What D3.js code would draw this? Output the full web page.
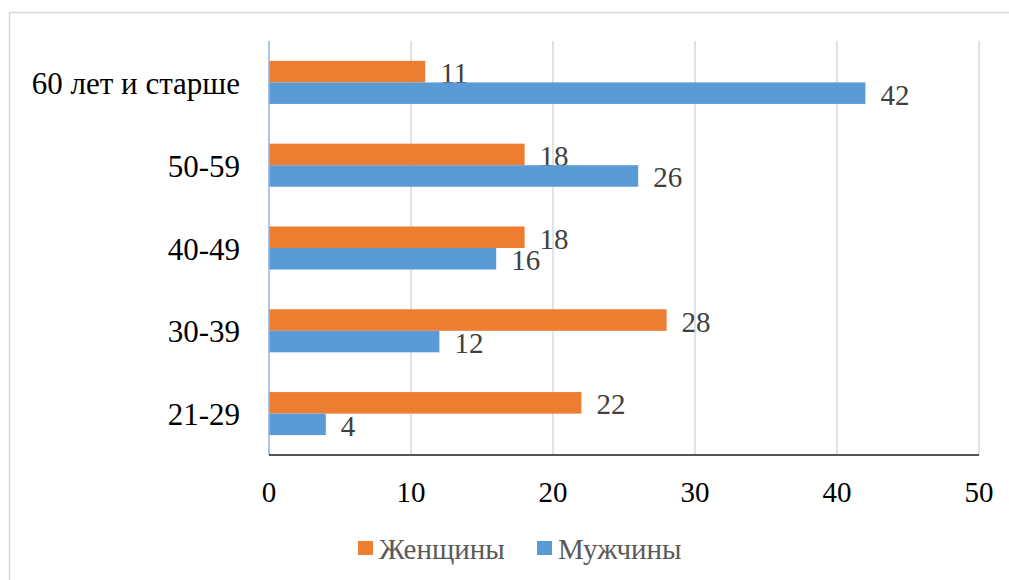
<!DOCTYPE html>
<html><head><meta charset="utf-8">
<script src="https://cdn.jsdelivr.net/npm/d3@7"></script>
<style>body{margin:0;background:#fff}svg{display:block}</style>
</head><body><svg id="c" width="1009" height="580"></svg>
<script>
const categories = ["60 лет и старше", "50-59", "40-49", "30-39", "21-29"];
const seriesNames = ["Женщины", "Мужчины"];
const women = [11, 18, 18, 28, 22];
const men = [42, 26, 16, 12, 4];
const xTicks = [0, 10, 20, 30, 40, 50];
const colors = ["#ED7D31", "#5B9BD5"];
const FONT = "'Liberation Serif'";

const svg = d3.select("#c");
svg.append("rect").attr("x", 9.5).attr("y", 12.5).attr("width", 1100).attr("height", 700)
  .attr("fill", "#fff").attr("stroke", "#d9d9d9").attr("stroke-width", 1.5);

const x = d3.scaleLinear().domain([0, 50]).range([269, 979]);
const y0 = d3.scaleBand().domain(categories).range([41, 455]).paddingInner(0.48).paddingOuter(0.24);
const y1 = d3.scaleBand().domain(seriesNames).range([0, y0.bandwidth()]);

// gridlines
svg.append("g").selectAll("line").data(xTicks.filter(d => d > 0)).join("line")
  .attr("x1", d => x(d)).attr("x2", d => x(d)).attr("y1", 41).attr("y2", 455)
  .attr("stroke", "#d9d9d9").attr("stroke-width", 1.5);

const data = categories.map((c, i) => ({c, vals: [women[i], men[i]]}));
const g = svg.append("g");
data.forEach(d => {
  d.vals.forEach((v, j) => {
    const yy = y0(d.c) + y1(seriesNames[j]);
    g.append("rect").attr("x", x(0)).attr("y", yy).attr("width", x(v) - x(0)).attr("height", y1.bandwidth())
      .attr("fill", colors[j]);
    g.append("text").attr("x", x(v) + 15).attr("y", yy + y1.bandwidth() / 2 + 11.5)
      .style("font-family", FONT).style("font-size", "29px").attr("fill", "#404040").text(v);
  });
});

// axes
svg.append("line").attr("x1", x(0)).attr("x2", x(0)).attr("y1", 41).attr("y2", 455)
  .attr("stroke", "#8eb4e3").attr("stroke-width", 1.5);
svg.append("line").attr("x1", x(0)).attr("x2", x(50)).attr("y1", 455).attr("y2", 455)
  .attr("stroke", "#1a1a1a").attr("stroke-width", 1.5);

svg.append("g").selectAll("text").data(xTicks).join("text")
  .attr("x", d => x(d)).attr("y", 502).attr("text-anchor", "middle")
  .style("font-family", FONT).style("font-size", "29px").attr("fill", "#000").text(d => d);

svg.append("g").selectAll("text").data(categories).join("text")
  .attr("x", 240).attr("y", d => y0(d) + y0.bandwidth() / 2 + 11.5).attr("text-anchor", "end")
  .style("font-family", FONT).style("font-size", "31px").attr("fill", "#000").text(d => d);

// legend
const legX = [358, 537];
seriesNames.forEach((s, i) => {
  svg.append("rect").attr("x", legX[i]).attr("y", 541).attr("width", 15).attr("height", 14).attr("fill", colors[i]);
  svg.append("text").attr("x", legX[i] + 21).attr("y", 559)
    .style("font-family", FONT).style("font-size", "29px").attr("fill", "#595959").text(s);
});
</script></body></html>
